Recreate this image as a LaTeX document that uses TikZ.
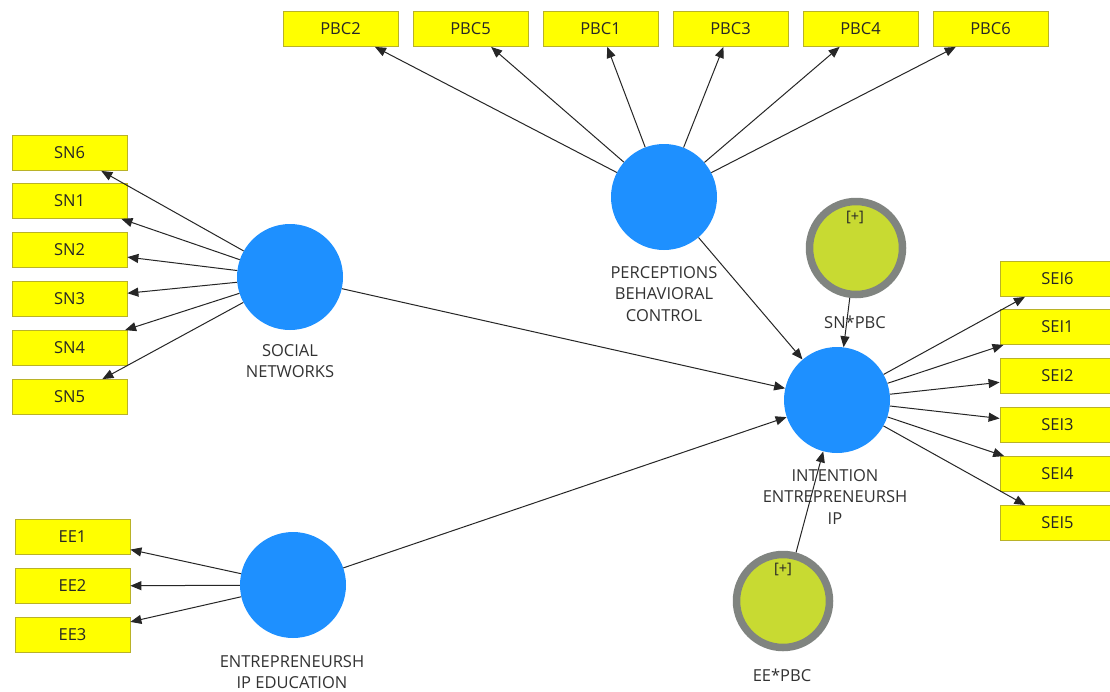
\documentclass[tikz,border=0pt]{standalone}
\usepackage{fontspec}
\setmainfont{Open Sans}
\usetikzlibrary{arrows.meta}
\definecolor{boxyellow}{RGB}{255,255,0}
\definecolor{boxedge}{RGB}{185,178,40}
\definecolor{latblue}{RGB}{30,144,255}
\definecolor{modgreen}{RGB}{200,218,50}
\definecolor{modring}{RGB}{128,132,128}
\definecolor{labgray}{RGB}{50,50,50}
\begin{document}
\begin{tikzpicture}[x=1pt,y=-1pt,
 ind/.style={draw=boxedge,fill=boxyellow,line width=0.8pt,minimum width=115pt,minimum height=35pt,inner sep=0pt,font=\fontsize{16.5}{18}\selectfont,text=black!85},
 lat/.style={circle,fill=latblue,minimum size=106pt,inner sep=0pt},
 mod/.style={circle,fill=modgreen,draw=modring,line width=7.5pt,minimum size=93pt,inner sep=0pt},
 lab/.style={align=center,font=\fontsize{16.5}{21.5}\selectfont,text=labgray},
 plus/.style={font=\fontsize{14.5}{15}\selectfont,text=black!85},
 arr/.style={-{Triangle[length=11pt,width=9pt]},line width=1pt,black!85}]
\clip (0,0) rectangle (1110,691);
\fill[white] (0,0) rectangle (1110,691);
% indicators
\node[ind] (p2) at (340.5,29) {PBC2};
\node[ind] (p5) at (470.5,29) {PBC5};
\node[ind] (p1) at (600.5,29) {PBC1};
\node[ind] (p3) at (730.5,29) {PBC3};
\node[ind] (p4) at (860.5,29) {PBC4};
\node[ind] (p6) at (990.5,29) {PBC6};
\node[ind] (sn6) at (69.5,153) {SN6};
\node[ind] (sn1) at (69.5,201) {SN1};
\node[ind] (sn2) at (69.5,250) {SN2};
\node[ind] (sn3) at (69.5,299) {SN3};
\node[ind] (sn4) at (69.5,348) {SN4};
\node[ind] (sn5) at (69.5,397) {SN5};
\node[ind] (sei6) at (1057.5,279) {SEI6};
\node[ind] (sei1) at (1057.5,327) {SEI1};
\node[ind] (sei2) at (1057.5,376) {SEI2};
\node[ind] (sei3) at (1057.5,425) {SEI3};
\node[ind] (sei4) at (1057.5,474) {SEI4};
\node[ind] (sei5) at (1057.5,523) {SEI5};
\node[ind] (ee1) at (72.5,537) {EE1};
\node[ind] (ee2) at (72.5,586) {EE2};
\node[ind] (ee3) at (72.5,635) {EE3};
% labels
\node[lab] (snlab) at (290,361) {SOCIAL\\NETWORKS};
\node[lab] (pbclab) at (664,294) {PERCEPTIONS\\BEHAVIORAL\\CONTROL};
\node[lab] (intlab) at (835,497) {INTENTION\\ENTREPRENEURSH\\IP};
\node[lab] (eelab) at (292,672) {ENTREPRENEURSH\\IP EDUCATION};
\node[lab] (snpbclab) at (855,322) {SN*PBC};
\node[lab] (eepbclab) at (782,675) {EE*PBC};
% latent variables
\node[lat] (sn) at (290,277) {};
\node[lat] (pbc) at (664,197) {};
\node[lat] (int) at (837,400) {};
\node[lat] (ee) at (293,585) {};
\node[mod] (snpbc) at (856,248) {};
\node[mod] (eepbc) at (783,601) {};
\node[plus] (snplus) at (855,217) {[+]};
\node[plus] (eeplus) at (783,569) {[+]};
% outer loadings
\foreach \t in {p2,p5,p1,p3,p4,p6} \draw[arr] (pbc) -- (\t);
\foreach \t in {sn6,sn1,sn2,sn3,sn4,sn5} \draw[arr] (sn) -- (\t);
\foreach \t in {sei6,sei1,sei2,sei3,sei4,sei5} \draw[arr] (int) -- (\t);
\foreach \t in {ee1,ee2,ee3} \draw[arr] (ee) -- (\t);
% structural paths
\draw[arr] (sn) -- (int);
\draw[arr] (pbc) -- (int);
\draw[arr] (ee) -- (int);
\draw[arr] (snpbc) -- (int);
\draw[arr] (eepbc) -- (int);
\end{tikzpicture}
\end{document}
